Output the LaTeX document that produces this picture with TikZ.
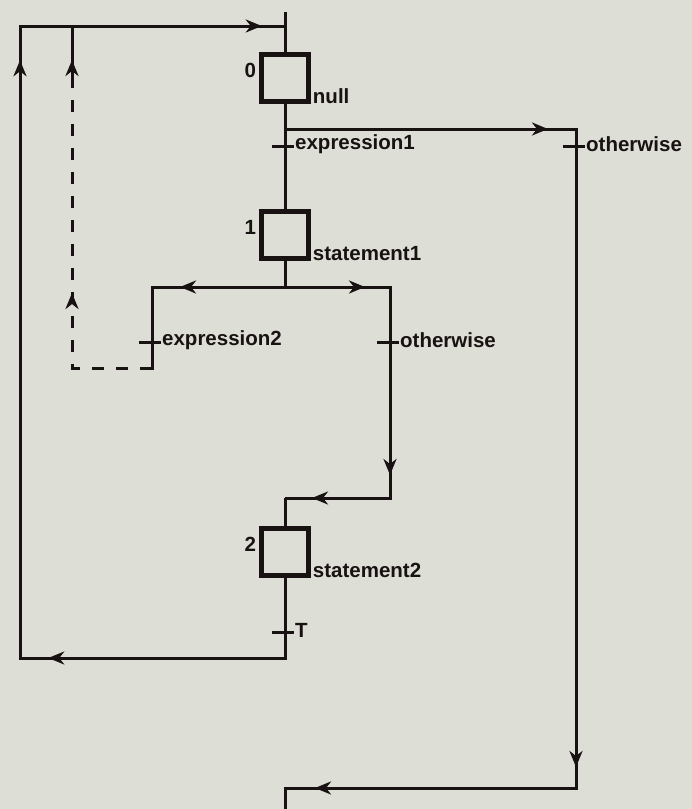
\documentclass[tikz,border=0pt]{standalone}
\usepackage{fontspec}
\setmainfont{Liberation Sans}
\usetikzlibrary{arrows.meta,decorations.markings}
\definecolor{paper}{RGB}{221,222,214}
\definecolor{ink}{RGB}{25,18,18}
\tikzset{
  conn/.style={draw=ink,line width=3pt},
  stepbox/.style={draw=ink,line width=4.5pt,minimum width=47pt,minimum height=47pt,inner sep=0pt},
  lbl/.style={text=ink,font=\fontsize{20.5}{20.5}\selectfont\bfseries,inner sep=1pt},
  tickline/.style={draw=ink,line width=3pt},
  arr/.style={postaction={decorate,decoration={markings,mark=at position #1 with {\arrow[ink]{Stealth[length=16pt,width=13pt,inset=5pt]}}}}},
  dashedconn/.style={draw=ink,line width=3pt,dash pattern=on 12pt off 12pt}
}
\begin{document}
\begin{tikzpicture}[x=1pt,y=-1pt]
\fill[paper] (0,0) rectangle (692,809);
\useasboundingbox (0,0) rectangle (692,809);
% steps
\node[stepbox] (s0) at (285,78) {};
\node[stepbox] (s1) at (285,235) {};
\node[stepbox] (s2) at (285,552) {};
% step labels
\node[lbl,anchor=east] (n0) at ([xshift=-2,yshift=-18]s0.north west) {0};
\node[lbl,anchor=base west] (a0) at ([xshift=1]s0.south east) {null};
\node[lbl,anchor=east] (n1) at ([xshift=-2,yshift=-18]s1.north west) {1};
\node[lbl,anchor=base west] (a1) at ([xshift=1]s1.south east) {statement1};
\node[lbl,anchor=east] (n2) at ([xshift=-2,yshift=-18]s2.north west) {2};
\node[lbl,anchor=base west] (a2) at ([xshift=1]s2.south east) {statement2};
% coordinates
\coordinate (top) at (285,12);
\coordinate (tl) at (20,26);
\coordinate (tj) at (285,26);
\coordinate (bl) at (20,658);
\coordinate (bj) at (285,658);
\coordinate (j0) at (285,129);
\coordinate (r0) at (576,129);
\coordinate (r1) at (576,788);
\coordinate (b1) at (285,788);
\coordinate (bend) at (285,809);
\coordinate (j1) at (285,287);
\coordinate (l1) at (152,287);
\coordinate (l2) at (152,368);
\coordinate (d1) at (72,368);
\coordinate (d2) at (72,85);
\coordinate (d3) at (72,26);
\coordinate (q1) at (390,287);
\coordinate (q2) at (390,498);
\coordinate (q3) at (285,498);
% transitions
\coordinate (t1) at (285,146);
\coordinate (t2) at (576,146);
\coordinate (t3) at (152,342);
\coordinate (t4) at (390,342);
\coordinate (t5) at (285,632);
% main line
\draw[conn] (top) -- (s0.north);
\draw[conn] (s0.south) -- (s1.north);
\draw[conn] (s1.south) -- (j1);
\draw[conn] (q3) -- (s2.north);
% loop back from step 2
\draw[conn,arr=317pt,arr=943pt,arr=1219pt] (s2.south) -- (bj) -- (bl) -- (tl) -- (tj);
% otherwise branch from step 0
\draw[conn,arr=263pt,arr=929pt,arr=1211pt] (j0) -- (r0) -- (r1) -- (b1) -- (bend);
% expression2 branch
\draw[conn,arr=105pt] (j1) -- (l1) -- (l2) -- ++(-10,0);
\draw[dashedconn,arr=155pt] (l2) -- (d1) -- (d2);
\draw[conn,arr=25pt] (d2) -- (d3);
% otherwise branch from step 1
\draw[conn,arr=80pt,arr=293pt,arr=394pt] (j1) -- (q1) -- (q2) -- (q3);
% transition ticks and labels
\foreach \t/\txt in {t1/expression1,t2/otherwise,t3/expression2,t4/otherwise,t5/T}{
  \draw[tickline] ([xshift=-13]\t) -- ([xshift=9]\t);
  \node[lbl,anchor=west] at ([xshift=9,yshift=2]\t) {\txt};
}
\end{tikzpicture}
\end{document}
